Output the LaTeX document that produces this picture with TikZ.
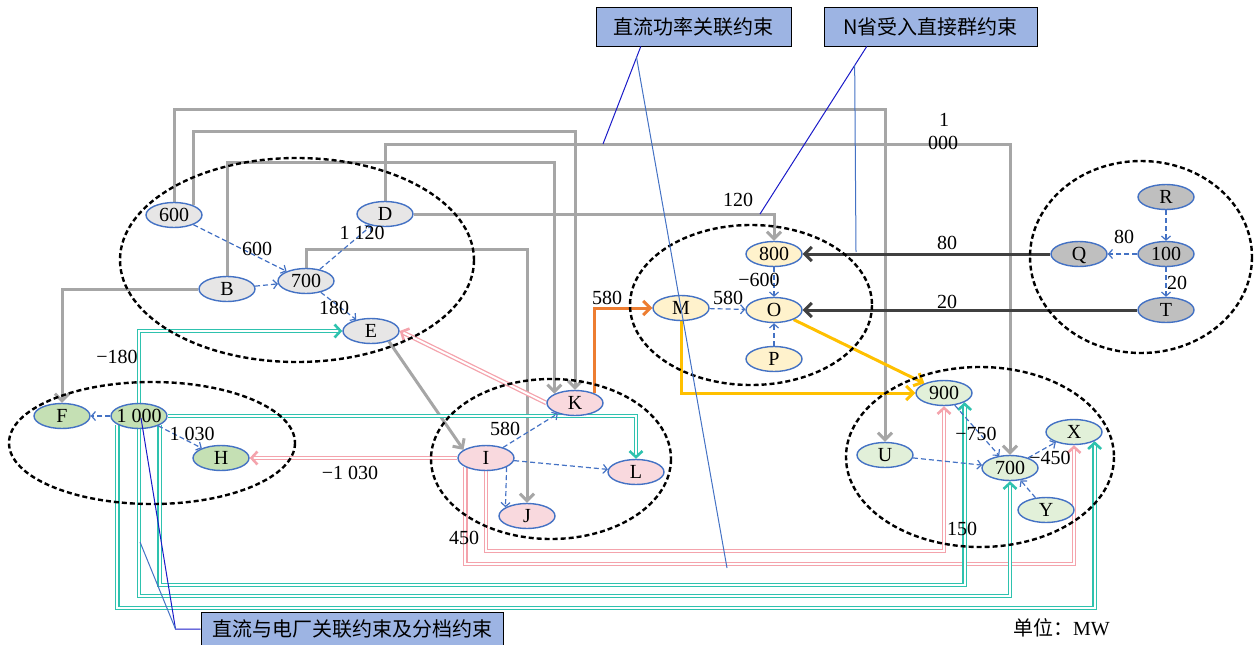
\documentclass[tikz,border=0pt]{standalone}
\usepackage{fontspec}
\setmainfont{Liberation Serif}
\newfontfamily\cjk{Noto Sans CJK SC}
\usetikzlibrary{arrows.meta,calc,shapes.geometric}
\pgfdeclarelayer{bg}
\pgfsetlayers{bg,main}
\definecolor{nodeblue}{HTML}{4472C4}
\definecolor{gA}{HTML}{E7E6E6}
\definecolor{gB}{HTML}{C5E0B4}
\definecolor{gC}{HTML}{F9D9DE}
\definecolor{gD}{HTML}{FFF2CC}
\definecolor{gE}{HTML}{E2F0D9}
\definecolor{gF}{HTML}{BFBFBF}
\definecolor{lgray}{HTML}{A6A6A6}
\definecolor{dgray}{HTML}{404040}
\definecolor{orangeL}{HTML}{ED7D31}
\definecolor{goldL}{HTML}{FFC000}
\definecolor{pinkL}{HTML}{F4A3AC}
\definecolor{tealL}{HTML}{2EC2AE}
\definecolor{boxfill}{HTML}{9DB4E3}
\definecolor{callA}{HTML}{1A1AC8}
\definecolor{callB}{HTML}{4472C4}
\newcommand{\myfs}{\fontsize{20}{24}\selectfont}
\newcommand{\zb}[1]{\makebox[0pt]{#1}}
\tikzset{
  bus/.style={ellipse, draw=nodeblue, line width=1.4pt, minimum width=56pt,
    minimum height=25pt, inner sep=0pt, text height=13pt, text depth=0pt, font=\myfs},
  grp/.style={draw=black, line width=2.4pt, dash pattern=on 5pt off 3pt},
  tipbig/.style={-{Straight Barb[length=7pt,width=14pt]}},
  gline/.style={draw=lgray, line width=3pt, tipbig},
  dline/.style={draw=dgray, line width=3pt, tipbig},
  oline/.style={draw=orangeL, line width=3pt, tipbig},
  yline/.style={draw=goldL, line width=3pt, tipbig},
  flow/.style={draw=nodeblue, line width=1.2pt, dash pattern=on 5pt off 3pt,
    -{Straight Barb[length=4pt,width=9pt]}},
  pdbl/.style={draw=pinkL, line width=1.3pt, double=white, double distance=2pt,
    -{Straight Barb[length=6pt,width=13pt,line width=2.6pt]}},
  tdbl/.style={draw=tealL, line width=1.3pt, double=white, double distance=2pt,
    -{Straight Barb[length=6pt,width=13pt,line width=2.6pt]}},
  lab/.style={font=\myfs, inner sep=0pt},
  cbox/.style={draw=black, fill=boxfill, line width=1pt, font=\cjk\myfs,
    inner sep=0pt, minimum height=39pt},
  callA/.style={draw=callA, line width=1pt},
  callB/.style={draw=callB, line width=1pt},
}
\begin{document}
\begin{tikzpicture}[x=1pt,y=-1pt]
\useasboundingbox (0,0) rectangle (1258,645);
% nodes
\node[bus,fill=gA] (n600) at (174,215) {\zb{600}};
\node[bus,fill=gA] (nD) at (385,214) {\zb{D}};
\node[bus,fill=gA] (nL700) at (306,281) {\zb{700}};
\node[bus,fill=gA] (nB) at (227,289) {\zb{B}};
\node[bus,fill=gA] (nE) at (371,331) {\zb{E}};
\node[bus,fill=gB] (nF) at (62,416) {\zb{F}};
\node[bus,fill=gB] (n1000) at (139,416) {\zb{1 000}};
\node[bus,fill=gB] (nH) at (221,458) {\zb{H}};
\node[bus,fill=gC] (nI) at (486,458) {\zb{I}};
\node[bus,fill=gC] (nK) at (575,403) {\zb{K}};
\node[bus,fill=gC] (nL) at (636,472) {\zb{L}};
\node[bus,fill=gC] (nJ) at (527,516) {\zb{J}};
\node[bus,fill=gD] (n800) at (774,254) {\zb{800}};
\node[bus,fill=gD] (nM) at (681,308) {\zb{M}};
\node[bus,fill=gD] (nO) at (774,310) {\zb{O}};
\node[bus,fill=gD] (nP) at (774,359) {\zb{P}};
\node[bus,fill=gE] (nU) at (885,455) {\zb{U}};
\node[bus,fill=gE] (n900) at (944,393) {\zb{900}};
\node[bus,fill=gE] (nR700) at (1010,468) {\zb{700}};
\node[bus,fill=gE] (nX) at (1074,432) {\zb{X}};
\node[bus,fill=gE] (nY) at (1046,510) {\zb{Y}};
\node[bus,fill=gF] (nQ) at (1079,254) {\zb{Q}};
\node[bus,fill=gF] (n100) at (1166,254) {\zb{100}};
\node[bus,fill=gF] (nR) at (1166,197) {\zb{R}};
\node[bus,fill=gF] (nT) at (1166,310) {\zb{T}};
% groups
\draw[grp] (297,260) ellipse [x radius=177, y radius=102];
\draw[grp] (152,443) ellipse [x radius=143, y radius=61];
\draw[grp] (551,459) ellipse [x radius=120, y radius=80];
\draw[grp] (751,305) ellipse [x radius=121, y radius=80];
\draw[grp] (1141,257) ellipse [x radius=111, y radius=96];
\draw[grp] (980,457) ellipse [x radius=134, y radius=90];
\begin{pgfonlayer}{bg}
% gray lines
\draw[gline] (n600.north) -- (n600.north |- 0,109) -| (nU.north);
\draw[gline] (n600.26) -- (n600.26 |- 0,131) -| (nK.north);
\draw[gline] (nD.north) -- (nD.north |- 0,144) -| (nR700.north);
\draw[gline] (nB.north) -- (nB.north |- 0,162) -| (nK.156);
\draw[gline] (nL700.north) -- (nL700.north |- 0,249) -| (nJ.north);
\draw[gline] (nD.east) -| (n800.north);
\draw[gline] (nB.west) -| (nF.north);
\draw[gline] (nE.-30) -- (nI.160);
% dark lines
\draw[dline] (nQ.west) -- (n800.east);
\draw[dline] (nT.west) -- (nO.east);
% orange / gold
\draw[oline] (nK.26) |- (nM.west);
\draw[yline] (nO) -- (n900);
\draw[yline] (nM.south) |- (n900.west);
% pink double
\draw[pdbl] (nI.west) -- (nH.east);
\draw[pdbl] (nK.west) -- (nE.east);
\draw[pdbl] (nI.south) -- (nI.south |- 0,551) -| (n900.south);
\draw[pdbl] (nI.-156) -- (nI.-156 |- 0,564) -| (nX.south);
% teal double
\draw[tdbl] (n1000.north) |- (nE.west);
\draw[tdbl] (n1000.east) -| (nL.north);
\draw[tdbl] (n1000.-24) -- (n1000.-24 |- 0,585) -| (n900.-24);
\draw[tdbl] (n1000.south) -- (n1000.south |- 0,596) -| (nR700.south);
\draw[tdbl] (n1000.-158) -- (n1000.-158 |- 0,608) -| (nX.-24);
% blue dashed flows
\draw[flow] (n600) -- (nL700);
\draw[flow] (nB) -- (nL700);
\draw[flow] (nL700) -- (nD);
\draw[flow] (nL700) -- (nE);
\draw[flow] (n1000) -- (nF);
\draw[flow] (n1000) -- (nH);
\draw[flow] (nI) -- (nK);
\draw[flow] (nI) -- (nL);
\draw[flow] (nI.-24) -- (nJ.158);
\draw[flow] (nM) -- (nO);
\draw[flow] (n800) -- (nO);
\draw[flow] (nP) -- (nO);
\draw[flow] (n100) -- (nQ);
\draw[flow] (nR) -- (n100);
\draw[flow] (n100) -- (nT);
\draw[flow] (nU) -- (nR700);
\draw[flow] (n900) -- (nR700);
\draw[flow] (nR700) -- (nX);
\draw[flow] (nY) -- (nR700);
\end{pgfonlayer}
% labels
\node[lab] (t1) at (257,249) {600};
\node[lab] (t2) at (362,233) {1 120};
\node[lab] (t3) at (334,308) {180};
\node[lab] (t4) at (117,357) {−180};
\node[lab] (t5) at (192,434) {1 030};
\node[lab] (t6) at (350,473) {−1 030};
\node[lab] (t7) at (464,538) {450};
\node[lab] (t8) at (505,429) {580};
\node[lab] (t9) at (607,298) {580};
\node[lab] (t10) at (728,298) {580};
\node[lab] (t11) at (759,280) {−600};
\node[lab] (t12) at (738,200) {120};
\node[lab] (t13) at (944,120) {1};
\node[lab] (t14) at (943,143) {000};
\node[lab] (t15) at (947,243) {80};
\node[lab] (t16) at (947,302) {20};
\node[lab] (t17) at (1124,237) {80};
\node[lab] (t18) at (1177,283) {20};
\node[lab] (t19) at (976,434) {−750};
\node[lab] (t20) at (1050,458) {−450};
\node[lab] (t21) at (962,529) {150};
% callout boxes
\node[cbox, minimum width=195pt] (c1) at (693.5,26.5) {直流功率关联约束};
\node[cbox, minimum width=213pt] (c2) at (930.5,26.5) {N省受入直接群约束};
\node[cbox, minimum width=302pt, minimum height=34pt] (c3) at (352,629) {直流与电厂关联约束及分档约束};
\node[lab, anchor=west] (unit) at (1013,628) {{\cjk 单位：}MW};
% callout lines
\coordinate (c1e) at (603,144);
\coordinate (c1f) at (727,568);
\coordinate (c2e) at (760,214);
\coordinate (c2f) at (856,252);
\coordinate (c3e) at (141,418);
\coordinate (c3f) at (140,542);
\draw[callA] ($(c1.south west)!0.231!(c1.south east)$) coordinate (c1s) -- (c1e);
\draw[callB] ($(c1s)!0.112!(c1e)$) -- (c1f);
\draw[callA] ($(c2.south west)!0.202!(c2.south east)$) coordinate (c2s) -- (c2e);
\draw[callB] ($(c2s)!0.113!(c2e)$) -- (c2f);
\draw[callA] (c3.west) -- ++(-25,0) coordinate (c3k) -- (c3e);
\draw[callB] (c3k) -- (c3f);
\end{tikzpicture}
\end{document}
